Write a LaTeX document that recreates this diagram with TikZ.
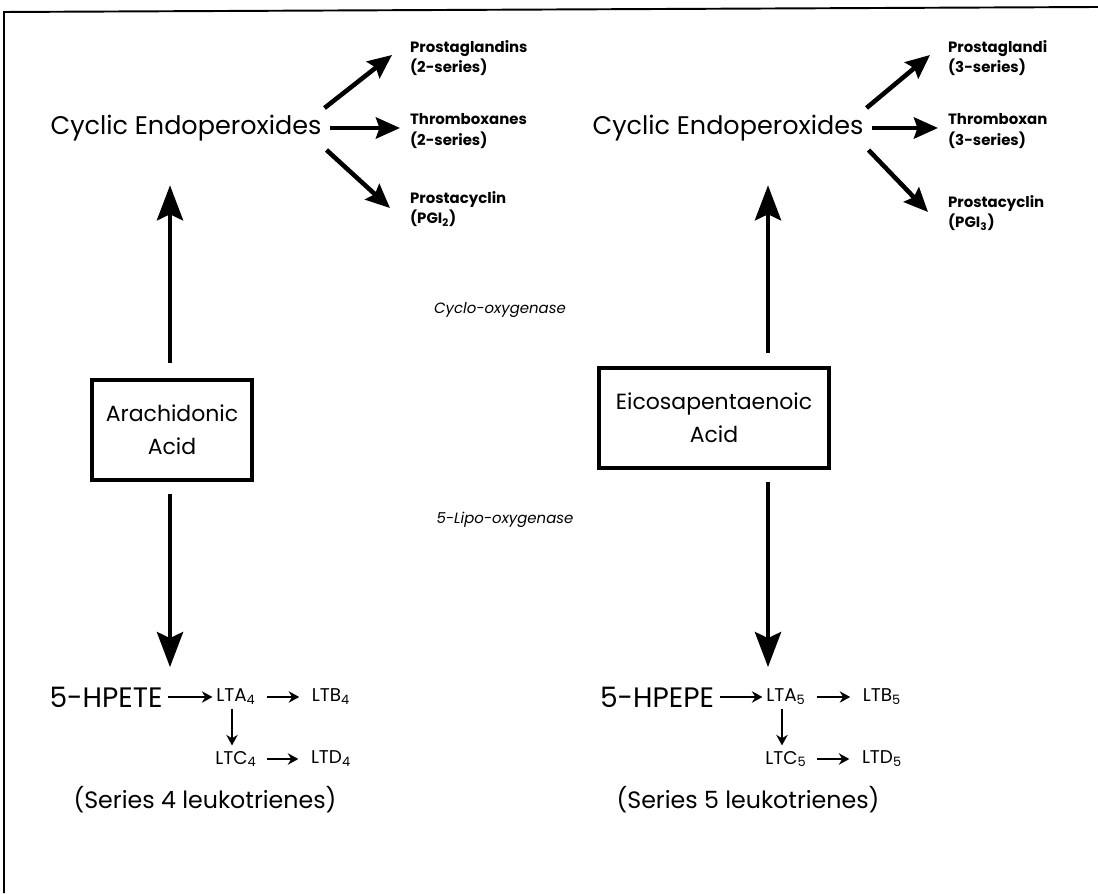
\documentclass[tikz,border=0pt]{standalone}
\usepackage{fontspec}
\setmainfont{Poppins}
\usetikzlibrary{arrows.meta,positioning}

\begin{document}
\begin{tikzpicture}[
  x=0.02cm, y=0.02cm,
  bigtxt/.style={font=\fontsize{14.5}{17}\selectfont, inner sep=1pt},
  series/.style={font=\fontsize{13.5}{16}\selectfont, inner sep=1pt},
  prod/.style={font=\fontsize{8.5}{11.5}\selectfont\bfseries, align=left, anchor=west, inner sep=1pt},
  acidbox/.style={draw, line width=1.9pt, font=\fontsize{12.5}{19}\selectfont, align=center, inner sep=2pt, minimum height=2cm},
  enz/.style={font=\fontsize{8.5}{10}\selectfont\itshape},
  lt/.style={font=\fontsize{10.5}{12}\selectfont, inner sep=1pt},
  bigarr/.style={-{Stealth[length=0.7cm,width=0.52cm,inset=0.12cm]}, line width=2.8pt},
  midarr/.style={-{Stealth[length=0.48cm,width=0.42cm,inset=0.07cm]}, line width=2.6pt},
  smallarr/.style={-{Stealth[length=6pt,width=6.5pt]}, line width=1.6pt}
]
\useasboundingbox (0,0) rectangle (1098,893);
% scanned page edge
\draw[line width=1.1pt] (4,0) -- (4,881) -- (1098,886);

% arachidonic acid side
\node[bigtxt] (ce4) at (186,765) {Cyclic Endoperoxides};
\node[prod] (pg2) at (408,835) {Prostaglandins\\(2-series)};
\node[prod] (tx2) at (408,762) {Thromboxanes\\(2-series)};
\node[prod] (pgi2) at (408,684) {Prostacyclin\\(PGI\textsubscript{2})};
\node[acidbox, minimum width=3.2cm] (aa) at (172,463) {Arachidonic\\Acid};
\node[bigtxt, font=\fontsize{16}{18}\selectfont] (hpete) at (106,196) {5-HPETE};
\node[lt] (lta4) at (236,196) {LTA\textsubscript{4}};
\node[lt] (ltb4) at (331,196) {LTB\textsubscript{4}};
\node[lt] (ltc4) at (236,134) {LTC\textsubscript{4}};
\node[lt] (ltd4) at (331,134) {LTD\textsubscript{4}};
\node[series] (s4) at (205,93) {(Series 4 leukotrienes)};

% eicosapentaenoic acid side
\node[bigtxt] (ce5) at (728,765) {Cyclic Endoperoxides};
\node[prod] (pg3) at (946,835) {Prostaglandi\\(3-series)};
\node[prod] (tx3) at (946,762) {Thromboxan\\(3-series)};
\node[prod] (pgi3) at (946,680) {Prostacyclin\\(PGI\textsubscript{3})};
\node[acidbox, minimum width=4.6cm] (epa) at (714,475) {Eicosapentaenoic\\Acid};
\node[bigtxt, font=\fontsize{16}{18}\selectfont] (hpepe) at (657,196) {5-HPEPE};
\node[lt] (lta5) at (786,196) {LTA\textsubscript{5}};
\node[lt] (ltb5) at (882,196) {LTB\textsubscript{5}};
\node[lt] (ltc5) at (786,134) {LTC\textsubscript{5}};
\node[lt] (ltd5) at (882,134) {LTD\textsubscript{5}};
\node[series] (s5) at (748,93) {(Series 5 leukotrienes)};

% enzymes
\node[enz] (cox) at (500,583) {Cyclo-oxygenase};
\node[enz] (lox) at (505,373) {5-Lipo-oxygenase};

\draw[midarr] ([shift={(1,20)}]ce4.east) -- ([shift={(-16,3)}]pg2.west);
\draw[midarr] ([shift={(6,0)}]ce4.east) -- ([shift={(-8,3)}]tx2.west);
\draw[midarr] ([shift={(3,-22)}]ce4.east) -- ([shift={(-18,1)}]pgi2.west);
\draw[midarr] ([shift={(1,20)}]ce5.east) -- ([shift={(-16,3)}]pg3.west);
\draw[midarr] ([shift={(6,0)}]ce5.east) -- ([shift={(-8,3)}]tx3.west);
\draw[midarr] ([shift={(3,-22)}]ce5.east) -- ([shift={(-18,1)}]pgi3.west);

\draw[bigarr, shorten <=0.3cm, shorten >=24pt] ([xshift=-2*0.02cm]aa.north) -- ([xshift=-2*0.02cm]aa.north |- ce4.south);
\draw[bigarr, shorten <=0.24cm, shorten >=10pt] ([xshift=-2*0.02cm]aa.south) -- ([xshift=-2*0.02cm]aa.south |- hpete.north);
\draw[bigarr, shorten <=0.26cm, shorten >=24pt] ([xshift=54*0.02cm]epa.north) -- ([xshift=54*0.02cm]epa.north |- ce5.south);
\draw[bigarr, shorten <=0.24cm, shorten >=10pt] ([xshift=54*0.02cm]epa.south) -- ([xshift=54*0.02cm]epa.south |- hpepe.north);

\draw[smallarr, shorten <=2pt, shorten >=1pt] (hpete) -- (lta4);
\draw[smallarr, shorten <=5pt, shorten >=6pt] (lta4) -- (ltb4);
\draw[smallarr, shorten <=1pt, shorten >=2pt] ([xshift=-4*0.02cm]lta4.south) -- ([xshift=-4*0.02cm]ltc4.north);
\draw[smallarr, shorten <=5pt, shorten >=6pt] (ltc4) -- (ltd4);
\draw[smallarr, shorten <=2pt, shorten >=1pt] (hpepe) -- (lta5);
\draw[smallarr, shorten <=5pt, shorten >=6pt] (lta5) -- (ltb5);
\draw[smallarr, shorten <=1pt, shorten >=2pt] ([xshift=-4*0.02cm]lta5.south) -- ([xshift=-4*0.02cm]ltc5.north);
\draw[smallarr, shorten <=5pt, shorten >=6pt] (ltc5) -- (ltd5);
\end{tikzpicture}
\end{document}
